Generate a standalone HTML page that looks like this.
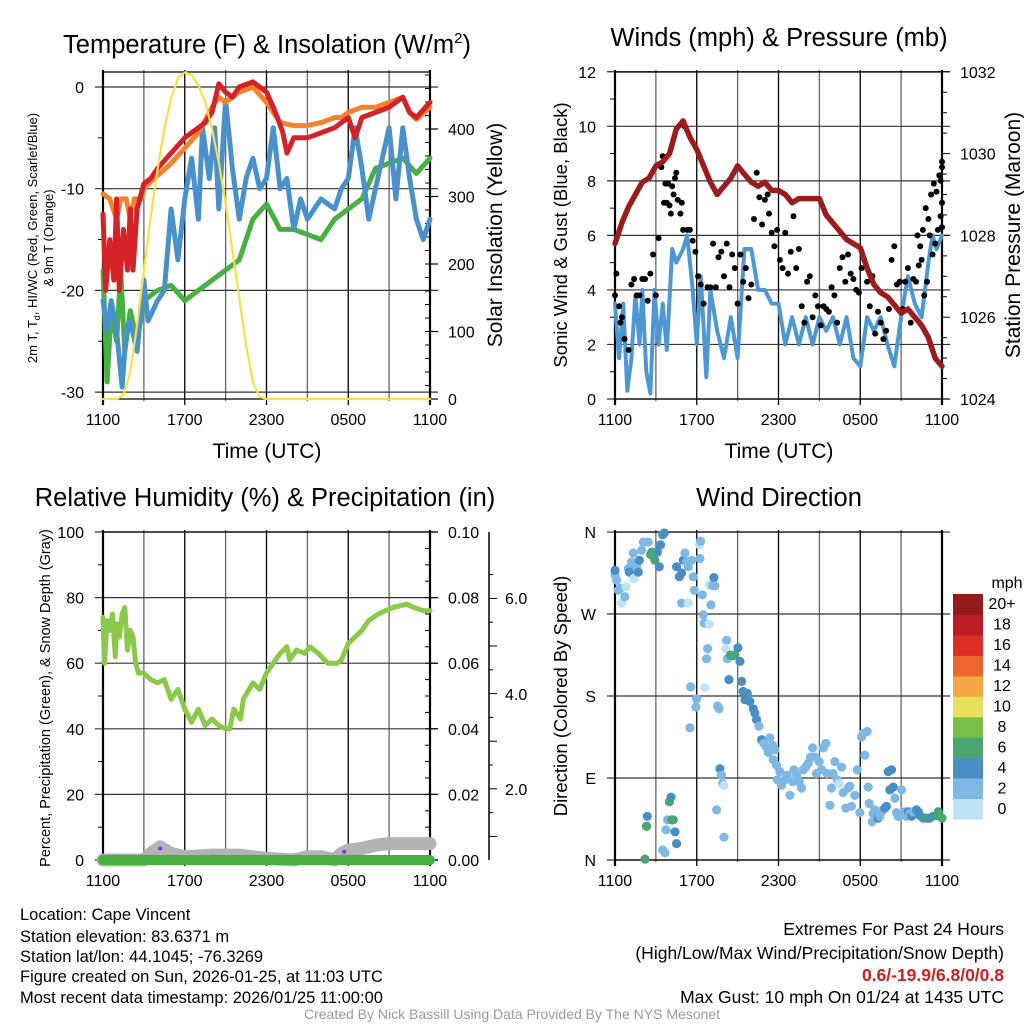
<!DOCTYPE html>
<html><head><meta charset="utf-8"><style>
body{margin:0;background:#fff;}
svg{display:block;font-family:"Liberation Sans",sans-serif;}
</style></head><body>
<svg id="svg" width="1024" height="1024" viewBox="0 0 1024 1024" xmlns="http://www.w3.org/2000/svg">
<rect width="1024" height="1024" fill="#fff"/>
<g id="g1"></g>
<g id="g2"></g>
<g id="g3"></g>
<g id="g4"></g>
<g font-size="16.5" fill="#000">
<text x="20" y="920">Location: Cape Vincent</text>
<text x="20" y="942">Station elevation: 83.6371 m</text>
<text x="20" y="962">Station lat/lon: 44.1045; -76.3269</text>
<text x="20" y="982">Figure created on Sun, 2026-01-25, at 11:03 UTC</text>
<text x="20" y="1003">Most recent data timestamp: 2026/01/25 11:00:00</text>
</g>
<g font-size="17.5" fill="#000" text-anchor="end">
<text x="1004" y="935">Extremes For Past 24 Hours</text>
<text x="1004" y="959">(High/Low/Max Wind/Precipitation/Snow Depth)</text>
<text x="1004" y="981" fill="#d0201f" font-weight="bold">0.6/-19.9/6.8/0/0.8</text>
<text x="1004" y="1003">Max Gust: 10 mph On 01/24 at 1435 UTC</text>
</g>
<text x="512" y="1019" font-size="14" fill="#999" text-anchor="middle">Created By Nick Bassill Using Data Provided By The NYS Mesonet</text>
</svg>
<script>
// ---------- data ----------
const timeLabels=["1100","1700","2300","0500","1100"];
const tempRedH=[0,0.2,0.5,0.8,1,1.2,1.5,1.8,2,2.2,2.5,3,3.5,4,5,6,7,7.5,8,8.5,9,9.5,10,11,12,12.5,12.8,13.2,13.5,14,15,16,17,18,18.5,19,20,21,22,22.5,23,24];
const tempRedV=[-12.5,-20,-15,-19,-11,-20,-14,-18,-12,-18,-12,-9.5,-9,-8,-6.5,-5,-4,-3.5,-2.5,0.3,-0.5,-1,0,0.5,-0.5,-2,-3,-4.5,-6.5,-5,-5,-4.5,-4,-3,-5,-3,-2.5,-2,-1,-2.5,-3,-1.5];
const tempOrangeH=[0,0.5,1,1.3,1.7,2,2.3,2.8,3,3.5,4,5,6,7,8,8.5,9,10,11,12,12.5,13,14,15,16,17,17.5,18,19,20,21,22,22.5,23,24];
const tempOrangeV=[-10.5,-11,-13,-11,-11,-13,-11,-11,-10,-9.3,-8.7,-7.5,-6,-4.5,-2,-1,-1.5,-0.5,0,-1.5,-2.5,-3.5,-3.8,-3.8,-3.5,-3,-3,-2.5,-2,-2,-1.5,-1,-2.5,-3.2,-2];
const tempBlueH=[0,0.3,0.6,1,1.4,1.7,2,2.5,3,3.3,4,4.5,5,5.5,6,6.5,7,7.3,7.8,8.2,8.5,9,9.5,10,10.5,11,11.5,12,12.5,13,13.5,14,14.5,15,16,17,17.5,18,18.5,19,19.5,20,21,21.5,22,22.5,23,23.5,24];
const tempBlueV=[-21,-24,-21,-24,-29.5,-24,-23,-26,-19,-23,-21,-20,-12,-17,-11,-7,-13,-4,-9,-4,-12,-1.3,-8,-13,-9,-7,-10,-9,-4,-10,-9,-14,-11,-13,-11,-12,-10,-9,-4,-8,-13,-10,-4,-11,-4,-9,-13,-15,-13];
const tempGreenH=[0,0.3,0.6,1,1.3,1.6,2,2.5,3,4,5,6,7,8,9,10,11,12,13,14,15,16,17,18,19,20,21,22,23,24];
const tempGreenV=[-18,-29,-22,-25,-18,-26,-22,-25,-21,-20,-19.5,-21,-20,-19,-18,-17,-13,-11.5,-14,-14,-14.5,-15,-13,-12,-11,-8,-7.5,-7,-8.5,-7];
const insolH=[0,1,1.5,2,2.5,3,3.5,4,4.5,5,5.5,6,6.5,7,7.5,8,8.5,9,9.5,10,10.5,11,11.5,12,24];
const insolV=[0,0,5,40,110,190,270,340,400,445,475,484,480,465,440,400,350,290,220,150,80,25,3,0,0];
const pressH=[0,0.5,1,1.5,2,2.5,3,3.5,4,4.5,5,5.5,6,6.5,7,7.5,8,8.5,9,9.5,10,10.5,11,11.5,12,12.5,13,13.5,14,15,15.5,16,16.5,17,17.5,18,18.5,19,19.5,20,20.5,21,21.5,22,22.5,23,23.5,24];
const pressV=[1027.8,1028.3,1028.7,1029.0,1029.3,1029.4,1029.7,1029.8,1030.0,1030.6,1030.8,1030.4,1030.1,1029.7,1029.3,1029.0,1029.2,1029.4,1029.7,1029.5,1029.3,1029.2,1029.3,1029.1,1029.1,1029.0,1028.8,1028.9,1028.9,1028.9,1028.5,1028.3,1028.1,1027.9,1027.8,1027.7,1027.2,1026.8,1026.6,1026.5,1026.3,1026.1,1026.2,1026.0,1025.8,1025.5,1025.0,1024.8];
const windH=[0,0.3,0.6,0.9,1.2,1.5,1.8,2,2.3,2.6,2.9,3.2,3.5,3.8,4.2,4.5,5,5.3,5.7,6,6.3,6.7,7,7.5,8,8.5,9,9.5,10,10.5,11,11.5,12,12.5,13,13.5,14,14.5,15,15.5,16,16.5,17,17.5,18,18.5,19,19.5,20,20.5,21,21.5,22,22.5,23,23.3,23.6,24];
const windV=[3.5,1.5,3.5,0.3,1.5,3.8,2,4,1,0.2,4,2,3.5,1.8,5.5,5,5.5,6,4,2,4.5,0.8,4,2.5,1.5,3,1.5,5.5,5.5,4,4,3.5,3.5,2,3,2,3,2,3,2.5,3,2,3,1.5,1.2,3,2.5,3,2,1.2,3,4.5,3.5,3,5,6,5.5,6];
const gustH=[0,0.1,0.3,0.4,0.5,0.7,1,1.2,1.4,1.6,1.8,2,2.2,2.4,2.6,2.8,3,3.2,3.4,3.5,3.6,3.7,3.8,3.9,4,4.1,4.2,4.3,4.4,4.5,4.6,4.8,4.9,5,5.1,5.3,5.5,5.7,5.9,6.1,6.3,6.5,6.8,7,7.2,7.4,7.6,7.8,8,8.2,8.4,8.6,8.8,9,9.2,9.4,9.6,9.8,10,10.2,10.4,10.6,10.8,11,11.2,11.3,11.5,11.7,11.9,12.1,12.3,12.5,12.7,12.9,13.1,13.3,13.5,13.7,13.9,14.1,14.3,14.5,14.7,14.9,15.1,15.3,15.5,15.7,15.9,16.1,16.3,16.5,16.7,16.9,17.1,17.3,17.5,17.7,17.9,18.1,18.3,18.5,18.7,18.9,19.1,19.3,19.5,19.7,19.9,20.1,20.3,20.5,20.7,20.9,21.1,21.3,21.5,21.7,21.9,22.1,22.3,22.5,22.7,22.9,23.1,23.3,23.5,23.7,23.9,24,22.2,22.4,22.6,22.8,23,23.2,23.4,23.6,23.8,24,23.9,24,24];
const gustV=[3.8,4.6,3.4,2.8,3,2.2,1.8,4.2,4.4,3.8,3.8,4.4,4.4,3.6,4.6,5.3,3.8,5.9,8.5,8.9,7.2,7.9,7.2,7.9,7.1,6.8,7.8,7.5,8.1,8.3,7.3,6.8,7.2,6.2,10,6.2,6.2,5.8,5.4,4.5,4.2,3.5,4.1,4.1,5.7,4.1,5.2,5.4,4.5,5.7,4.1,5.3,4.8,3.5,5.3,4.3,4.8,3.7,4.2,6.6,8.3,7.4,6.4,7.3,7.5,6.8,6.1,5.6,6.2,5.1,4.8,6.1,4.6,5.4,6.7,4.8,5.5,3.4,2.8,4.3,4.5,3,3.8,3.4,2.7,3.4,3.3,3.2,4.1,3.8,2.8,4.8,5.2,4.3,5.3,4.6,4.4,4,3.9,4.8,5.1,4.3,3.4,4.5,2.4,3.2,2.8,2.2,2.5,3.3,5.1,5.6,4.2,4.3,3.3,4.3,4.8,2.8,4.4,4.3,4.9,5.1,3.8,4.3,6,5.3,5.7,6.2,6.7,6.3,6,5.6,6.2,7,6.6,7.5,7.9,7.6,8.2,8.7,8,7.2,8.5];
const rhH=[0,0.1,0.3,0.5,0.7,0.9,1,1.2,1.4,1.6,1.8,2,2.2,2.4,2.6,2.8,3,3.5,4,4.5,5,5.5,6,6.5,7,7.5,8,8.5,9,9.3,9.6,10.1,10.3,11,11.5,12,12.5,13,13.5,13.7,14.2,14.8,15.2,15.8,16.5,17.2,17.5,18,18.5,19,19.5,20.2,21.3,22.3,22.8,23.5,24];
const rhV=[74,60,73,70,75,62,72,68,75,77,64,70,68,60,57,57,57,55,54,55,49,52,46,42,46,41,43,41,40,40,46,43,49,54,52,57,60,63,65,61,64,63,65,63,60,60,61,66,68,70,73,75,77,78,77,76,76];
const snowH=[0,3,3.5,4.2,5,6,8,10,12,14,15,16,17,17.5,18,19,20,21,22,23,24];
const snowV=[0,0,2,4,2,1,1.5,1.5,0.5,0,1,1,0,2,3,3.5,4.5,5,5,5,5];
const precipH=[0,24];
const precipV=[0,0];
const dotH=[4.2,17.7];
const dotV=[3.5,2.5];
const dirH=[0,0,0.12,0.24,0.37,0.49,0.73,0.81,0.98,1.05,1.22,1.34,1.39,1.59,1.71,1.78,1.96,2.08,2.44,2.62,2.69,2.93,3.11,3.25,3.35,3.5,3.62,4.52,4.72,4.89,5.01,5.13,5.26,5.38,5.62,5.75,5.82,4.89,5.38,6.19,6.28,6.23,6.41,6.48,6.55,6.92,7.04,6.92,7.16,7.26,7.33,6.8,6.72,8.19,8.12,8.24,8.48,8.63,8.8,9.02,9.17,8.36,9.29,9.41,9.54,9.71,9.9,10.15,10.27,10.39,10.56,10.76,10.93,11.12,11.25,11.37,11.56,11.74,11.61,11.86,11.91,12.1,12.22,12.47,12.64,12.84,13.03,13.13,13.33,13.52,13.69,13.81,13.99,14.18,14.35,14.5,14.67,14.79,14.99,15.16,15.28,15.48,15.57,15.77,15.89,16.01,16.14,16.31,16.45,16.63,16.75,16.94,17.11,17.24,17.36,17.6,17.78,17.97,18.09,18.22,18.34,18.51,18.58,18.66,18.88,18.95,19.07,19.19,19.32,19.44,19.56,19.68,19.8,19.93,20.05,20.17,20.29,20.42,20.54,20.66,20.78,20.86,21.03,21.15,21.27,21.39,21.52,21.64,21.76,21.88,22.13,22.25,22.37,22.62,22.86,23.1,23.35,23.59,23.72,23.84,24,2.2,2.32,2.37,2.32,3.5,3.67,3.74,3.86,3.99,4.11,4.16,4.28,4.4,4.52,5.5,5.55,5.99,5.94,6.6,7.53,7.63,7.7,7.82,7.9,8.0,7.46,8.0];
const dirDeg=[313,318,307,296,298,282,289,300,320,316,327,337,309,322,316,329,340,349,349,335,338,329,338,322,346,357,359,322,311,315,329,337,327,322,329,311,296,282,282,346,350,331,291,269,260,259,280,302,301,310,301,232,221,241,232,221,225,224,225,233,218,198,196,185,176,183,174,166,161,154,147,132,128,124,118,134,126,121,110,104,88,97,82,88,93,71,86,99,93,86,79,99,102,106,113,123,113,95,108,99,123,128,95,60,79,95,108,88,84,102,74,57,79,81,59,71,99,52,135,139,115,141,80,62,42,51,55,51,46,48,53,55,57,59,97,77,99,80,68,52,48,48,77,50,53,48,53,51,48,53,55,53,49,46,46,46,48,49,53,48,46,1,37,48,37,11,8,33,44,64,69,44,44,31,18,145,190,177,168,189,169,166,100,93,84,82,55,25];
const dirBin=[1,2,1,1,1,0,1,0,1,2,1,1,0,1,2,2,1,1,1,3,3,3,2,2,2,2,2,2,2,2,2,1,1,1,1,1,1,1,0,0,1,1,1,1,1,0,1,0,1,2,1,1,1,1,0,1,3,3,3,2,2,2,2,2,2,2,2,2,2,2,1,2,1,1,1,1,1,1,1,1,1,1,1,1,1,1,1,1,1,1,1,1,1,1,1,1,1,1,1,1,1,1,1,1,1,1,1,1,0,1,1,1,1,1,1,1,1,1,1,1,1,1,1,1,1,1,1,1,2,1,1,1,2,2,2,2,2,2,1,1,1,1,1,1,1,1,2,1,2,1,2,2,2,2,3,2,2,3,3,3,3,3,3,2,3,1,1,1,1,3,2,3,3,2,2,1,1,1,1,0,1,1,2,1,1,0,1,1,1,1,1,0];
const dirLabels=["N","W","S","E","N"];
const binColors=["#bde3f5","#7fb9e3","#4a8fc4","#4aa571"];
const cbarLabels=["0","2","4","6","8","10","12","14","16","18","20+"];
const cbarColors=["#bde3f5","#7fb9e3","#4a8fc4","#4aa571","#7bbf4b","#e6e05a","#f5a847","#ef6530","#dc3027","#bb1b22","#931b1b"];

// ---------- helpers ----------
const NS="http://www.w3.org/2000/svg";
const TICK=16;
function mk(parent,tag,attrs,text){const e=document.createElementNS(NS,tag);for(const k in attrs)e.setAttribute(k,attrs[k]);if(text!==undefined)e.textContent=text;parent.appendChild(e);return e;}
function line(p,x1,y1,x2,y2,st,w){return mk(p,"line",{x1:x1,y1:y1,x2:x2,y2:y2,stroke:st,"stroke-width":w});}
function poly(p,hs,vs,X,Y,col,w,name){
  const pts=hs.map((h,i)=>X(h).toFixed(1)+","+Y(vs[i]).toFixed(1)).join(" ");
  const e=mk(p,"polyline",{points:pts,fill:"none",stroke:col,"stroke-width":w,"stroke-linejoin":"round","stroke-linecap":"round"});
  
  
  return e;
}
function txt(p,x,y,s,size,anchor,extra){const e=mk(p,"text",Object.assign({x:x,y:y,"font-size":size,"text-anchor":anchor||"middle"},extra||{}),s);return e;}
function frame(g,x0,x1,y0,y1,gridYs){
  for(let k=1;k<8;k++){const x=x0+k*(x1-x0)/8;line(g,x,y0-2,x,y1+(k%2==0?6:2),k%2==0?"#000":"#666",1.3);}
  gridYs.forEach(y=>{line(g,x0-8,y,x1+8,y,"#333",1.2);});
  line(g,x0,y0,x1,y0,"#000",1.3);line(g,x0,y1,x1,y1,"#000",1.3);
  line(g,x0,y0-2,x0,y1+6,"#000",2.2);line(g,x1,y0-2,x1,y1+6,"#000",2.2);
  timeLabels.forEach((t,i)=>{const e=txt(g,x0+i*(x1-x0)/4,y1+26,t,TICK);});
}

// ---------- Panel 1 ----------
(function(){
const g=document.getElementById("g1");
const x0=103,x1=430,y0=72,y1=399;
const X=h=>x0+h*(x1-x0)/24;
const YT=t=>87-t*10.17;
const YI=v=>399-v*0.675;
const gy=[0,-10,-20,-30].map(YT);
frame(g,x0,x1,y0,y1,gy);
[0,-10,-20,-30].forEach(t=>{const e=txt(g,84,YT(t)+6,String(t),TICK,"end");});
[-5,-15,-25].forEach(t=>line(g,x0-5,YT(t),x0,YT(t),"#000",1));
for(let v=0;v<=480;v+=20){line(g,x1-5,YI(v),x1,YI(v),"#000",1);}
[0,100,200,300,400].forEach(v=>{line(g,x1,YI(v),x1+8,YI(v),"#000",1.2);const e=txt(g,448,YI(v)+6,String(v),TICK,"start");});
poly(g,tempGreenH,tempGreenV,X,YT,"#46b040",5,"dewpoint-line");
poly(g,tempBlueH,tempBlueV,X,YT,"#4a90cb",5,"windchill-line");
poly(g,tempOrangeH,tempOrangeV,X,YT,"#f5822d",5,"temp-9m-line");
poly(g,tempRedH,tempRedV,X,YT,"#d42228",5,"temp-2m-line");
poly(g,insolH,insolV,X,YI,"#f7e04a",2.2,"insolation-line");
let e=txt(g,267,53,"Temperature (F) & Insolation (W/m",25.5);
mk(e,"tspan",{dy:-10,"font-size":15},"2");mk(e,"tspan",{dy:10},")");
e=txt(g,267,458,"Time (UTC)",21);
e=mk(g,"text",{x:0,y:0,"font-size":13,"text-anchor":"middle",transform:"translate(37,238) rotate(-90)"},"2m T, T");
mk(e,"tspan",{"font-size":9,dy:3},"d");mk(e,"tspan",{dy:-3},", HI/WC (Red, Green, Scarlet/Blue)");
e=mk(g,"text",{x:0,y:0,"font-size":13,"text-anchor":"middle",transform:"translate(53,238) rotate(-90)"},"& 9m T (Orange)");
e=mk(g,"text",{x:0,y:0,"font-size":21,"text-anchor":"middle",transform:"translate(502,235) rotate(-90)"},"Solar Insolation (Yellow)");
})();

// ---------- Panel 2 ----------
(function(){
const g=document.getElementById("g2");
const x0=615,x1=942,y0=72,y1=399;
const X=h=>x0+h*(x1-x0)/24;
const YW=w=>399-w*27.27;
const YP=p=>399-(p-1024)*40.9;
frame(g,x0,x1,y0,y1,[0,2,4,6,8,10,12].map(YW));
[0,2,4,6,8,10,12].forEach(w=>{const e=txt(g,596,YW(w)+6,String(w),TICK,"end");});
[1,3,5,7,9,11].forEach(w=>line(g,x0-5,YW(w),x0,YW(w),"#000",1));
for(let p=1024;p<=1032;p+=0.5){line(g,x1,YP(p),x1+(p%2==0?8:5),YP(p),"#000",1);}
[1024,1026,1028,1030,1032].forEach(p=>{const e=txt(g,960,YP(p)+6,String(p),TICK,"start");});
poly(g,windH,windV,X,YW,"#4f97d3",4,"sonic-wind-line");
gustH.forEach((h,i)=>{const c=mk(g,"circle",{cx:X(h).toFixed(1),cy:YW(gustV[i]).toFixed(1),r:3,fill:"#000"});

});
poly(g,pressH,pressV,X,YP,"#9b1c1f",5.5,"pressure-line");
let e=txt(g,779,46,"Winds (mph) & Pressure (mb)",25.5);
e=txt(g,779,458,"Time (UTC)",21);
e=mk(g,"text",{x:0,y:0,"font-size":18.5,"text-anchor":"middle",transform:"translate(567,235) rotate(-90)"},"Sonic Wind & Gust (Blue, Black)");
e=mk(g,"text",{x:0,y:0,"font-size":21,"text-anchor":"middle",transform:"translate(1020,235) rotate(-90)"},"Station Pressure (Maroon)");
})();

// ---------- Panel 3 ----------
(function(){
const g=document.getElementById("g3");
const x0=103,x1=430,y0=532,y1=860;
const X=h=>x0+h*(x1-x0)/24;
const YR=r=>860-r*3.28;
frame(g,x0,x1,y0,y1,[0,20,40,60,80,100].map(YR));
[0,20,40,60,80,100].forEach(r=>{const e=txt(g,84,YR(r)+6,String(r),TICK,"end");});
[10,30,50,70,90].forEach(r=>line(g,x0-5,YR(r),x0,YR(r),"#000",1));
for(let r=0;r<=100;r+=5){line(g,x1-5,YR(r),x1,YR(r),"#000",1);}
["0.00","0.02","0.04","0.06","0.08","0.10"].forEach((s,i)=>{line(g,x1,YR(i*20),x1+8,YR(i*20),"#000",1.2);const e=txt(g,448,YR(i*20)+6,s,TICK,"start");});
line(g,489,532,489,860,"#000",1.5);
for(let k=0;k<14;k++){const y=884-k*23.8;if(y>=532&&y<=860)line(g,489,y,489+(k%2==0?8:4),y,"#000",1);}
[["2.0",789],["4.0",694],["6.0",598]].forEach(a=>{const e=txt(g,505,a[1]+6,a[0],TICK,"start");});
poly(g,snowH,snowV,X,YR,"#b3b3b3",13,"snow-depth-line");
poly(g,precipH,precipV,X,YR,"#48b040",10,"precip-line");
dotH.forEach((h,i)=>{const c=mk(g,"circle",{cx:X(h),cy:YR(dotV[i]),r:2,fill:"#a020f0"});

});
poly(g,rhH,rhV,X,YR,"#8bc94b",5,"rh-line");
let e=txt(g,265,506,"Relative Humidity (%) & Precipitation (in)",25.5);
e=mk(g,"text",{x:0,y:0,"font-size":14.5,"text-anchor":"middle",transform:"translate(50,698) rotate(-90)"},"Percent, Precipitation (Green), & Snow Depth (Gray)");
})();

// ---------- Panel 4 ----------
(function(){
const g=document.getElementById("g4");
const x0=615,x1=942,y0=532,y1=860;
const X=h=>x0+h*(x1-x0)/24;
const YD=d=>860-d*0.911;
frame(g,x0,x1,y0,y1,[0,90,180,270,360].map(YD));
dirLabels.forEach((s,i)=>{const e=txt(g,596,YD(360-i*90)+6,s,TICK,"end");});
dirH.forEach((h,i)=>{const c=mk(g,"circle",{cx:X(h).toFixed(1),cy:YD(dirDeg[i]).toFixed(1),r:4.6,fill:binColors[dirBin[i]]});

});
let e=txt(g,779,506,"Wind Direction",25.5);
e=mk(g,"text",{x:0,y:0,"font-size":18.5,"text-anchor":"middle",transform:"translate(567,696) rotate(-90)"},"Direction (Colored By Speed)");
const cb=mk(g,"g",{});
const bh=(819-594)/cbarColors.length;
cbarColors.forEach((c,i)=>{const r=mk(cb,"rect",{x:953,y:(819-(i+1)*bh).toFixed(1),width:30,height:(bh+0.5).toFixed(1),fill:c});


const t=txt(cb,1002,(819-(i+0.5)*bh+5).toFixed(1),cbarLabels[i],TICK);

});
e=txt(cb,1007,588,"mph",TICK);
})();
</script>
</body></html>
